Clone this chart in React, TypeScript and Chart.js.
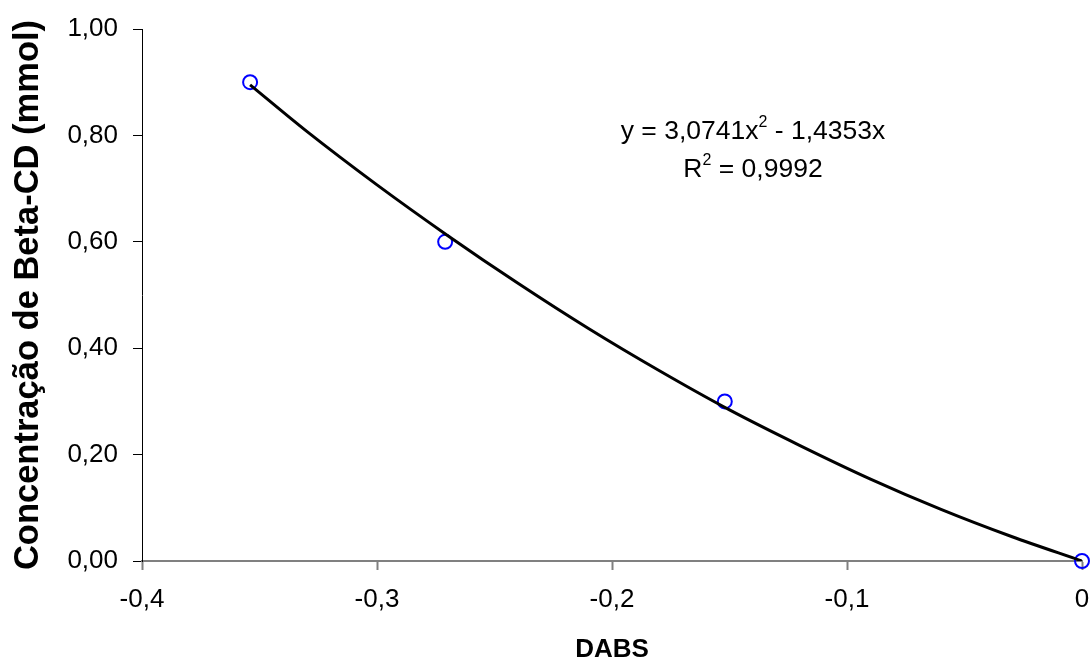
import React, { useEffect, useRef } from "react";
import { Chart, registerables } from "chart.js";

Chart.register(...registerables);

// Measured points (DABS vs concentration)
const dabs = [-0.354, -0.271, -0.152, 0];
const concentration = [0.9, 0.6, 0.3, 0];

// Trend line
const trendX = [-0.354, -0.33, -0.3, -0.27, -0.24, -0.21, -0.18, -0.15, -0.12, -0.09, -0.06, -0.03, 0];
const trendY = [0.895, 0.808, 0.707, 0.612, 0.522, 0.437, 0.358, 0.284, 0.217, 0.154, 0.097, 0.046, 0];

const xTickLabels = ["-0,4", "-0,3", "-0,2", "-0,1", "0"];
const yTickLabels = ["0,00", "0,20", "0,40", "0,60", "0,80", "1,00"];

const equationMain = "y = 3,0741x";
const equationTail = " - 1,4353x";
const r2Head = "R";
const r2Tail = " = 0,9992";

const FONT = "'Liberation Sans', Arial, sans-serif";

const annotationPlugin = {
  id: "equationLabel",
  afterDraw(chart: any) {
    const ctx = chart.ctx;
    ctx.save();
    ctx.fillStyle = "#000";
    ctx.textBaseline = "alphabetic";
    ctx.textAlign = "left";
    const main = `26.5px ${FONT}`;
    const sup = `16px ${FONT}`;
    const cx = 753;
    const drawLine = (head: string, tail: string, baseline: number) => {
      ctx.font = main;
      const wh = ctx.measureText(head).width;
      const wt = ctx.measureText(tail).width;
      ctx.font = sup;
      const ws = ctx.measureText("2").width;
      const total = wh + ws + wt;
      let x = cx - total / 2;
      ctx.font = main;
      ctx.fillText(head, x, baseline);
      x += wh;
      ctx.font = sup;
      ctx.fillText("2", x, baseline - 12);
      x += ws;
      ctx.font = main;
      ctx.fillText(tail, x, baseline);
    };
    drawLine(equationMain, equationTail, 139);
    drawLine(r2Head, r2Tail, 177);
    ctx.restore();
  },
};

export default function App() {
  const canvasRef = useRef<HTMLCanvasElement | null>(null);

  useEffect(() => {
    document.body.style.margin = "0";
    const canvas = canvasRef.current;
    if (!canvas) return;
    const chart = new Chart(canvas, {
      type: "scatter",
      data: {
        datasets: [
          {
            label: "Tendência",
            data: trendX.map((x, i) => ({ x, y: trendY[i] })),
            showLine: true,
            borderColor: "#000000",
            borderWidth: 3,
            pointRadius: 0,
            tension: 0.4,
            cubicInterpolationMode: "monotone",
            fill: false,
          },
          {
            label: "Beta-CD",
            data: dabs.map((x, i) => ({ x, y: concentration[i] })),
            showLine: false,
            pointStyle: "circle",
            pointRadius: 7,
            pointBorderWidth: 2,
            borderColor: "#0000FF",
            backgroundColor: "rgba(0,0,0,0)",
            pointBackgroundColor: "rgba(0,0,0,0)",
            pointBorderColor: "#0000FF",
            clip: false,
          },
        ],
      },
      options: {
        animation: false,
        responsive: false,
        events: [],
        layout: { padding: { top: 29, right: 7, left: 0, bottom: 0 } },
        plugins: {
          legend: { display: false },
          tooltip: { enabled: false },
        },
        scales: {
          x: {
            type: "linear",
            min: -0.4,
            max: 0,
            afterFit: (scale: any) => {
              scale.height = 99;
              scale.paddingLeft = 0;
              scale.paddingRight = 0;
            },
            ticks: {
              stepSize: 0.1,
              color: "#000",
              font: { family: FONT, size: 26 },
              padding: 14,
              maxRotation: 0,
              callback: (_v: any, i: number) => xTickLabels[i],
            },
            grid: {
              display: true,
              drawOnChartArea: false,
              drawTicks: true,
              tickLength: 9,
              tickWidth: 2,
              tickColor: "#808080",
            },
            border: { display: true, color: "#808080", width: 2 },
            title: {
              display: true,
              text: "DABS",
              color: "#000",
              font: { family: FONT, size: 26, weight: "bold", lineHeight: 1 },
              padding: { top: 0, bottom: -3 },
            },
          },
          y: {
            type: "linear",
            min: 0,
            max: 1,
            afterFit: (scale: any) => {
              scale.width = 142;
              scale.paddingTop = 0;
              scale.paddingBottom = 0;
            },
            ticks: {
              stepSize: 0.2,
              color: "#000",
              font: { family: FONT, size: 26 },
              padding: 15,
              callback: (_v: any, i: number) => yTickLabels[i],
            },
            grid: {
              display: true,
              drawOnChartArea: false,
              drawTicks: true,
              tickLength: 9,
              tickWidth: 1,
              tickColor: "#000",
            },
            border: { display: true, color: "#000", width: 1 },
            title: {
              display: true,
              text: "Concentração de Beta-CD (mmol)",
              color: "#000",
              font: { family: FONT, size: 34.5, weight: "bold", lineHeight: 1 },
              padding: { top: 11, bottom: 0 },
            },
          },
        },
      },
      plugins: [annotationPlugin],
    });
    return () => chart.destroy();
  }, []);

  return (
    <canvas
      ref={canvasRef}
      width={1091}
      height={660}
      style={{ display: "block", width: 1091, height: 660 }}
    />
  );
}
